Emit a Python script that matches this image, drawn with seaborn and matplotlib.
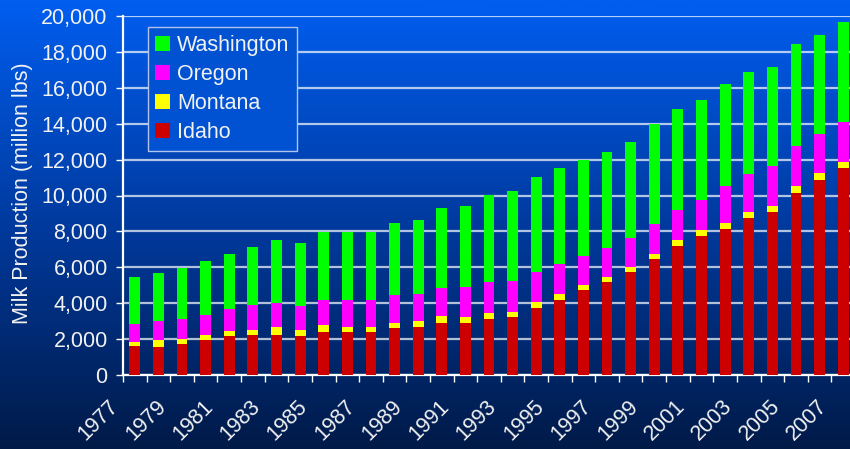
import numpy as np
import pandas as pd
import seaborn as sns
import matplotlib.pyplot as plt
from matplotlib.patches import Patch
from matplotlib.colors import LinearSegmentedColormap
from matplotlib.ticker import FuncFormatter, FixedLocator

# milk production, million lbs
years = list(range(1977, 2008))
idaho = [1600, 1540, 1710, 1930, 2160, 2210, 2210, 2160, 2380, 2380, 2380, 2600, 2660, 2880, 2880, 3100,
         3210, 3720, 4160, 4720, 5160, 5720, 6450, 7170, 7730, 8120, 8730, 9060, 10120, 10850, 11520]
montana = [220, 390, 280, 280, 280, 280, 450, 330, 390, 280, 280, 280, 330, 390, 330, 330,
           280, 330, 330, 280, 280, 280, 280, 330, 330, 330, 330, 330, 390, 390, 330]
oregon = [1040, 1060, 1110, 1110, 1220, 1390, 1340, 1340, 1390, 1500, 1500, 1560, 1500, 1560, 1670, 1730,
          1730, 1670, 1690, 1620, 1620, 1620, 1670, 1670, 1710, 2100, 2160, 2270, 2230, 2210, 2230]
washington = [2580, 2670, 2840, 3010, 3060, 3230, 3510, 3510, 3810, 3810, 3790, 4010, 4120, 4460, 4510, 4850,
              5010, 5290, 5330, 5360, 5350, 5350, 5570, 5630, 5530, 5640, 5640, 5480, 5680, 5480, 5570]

states = ["Idaho", "Montana", "Oregon", "Washington"]
colors = {"Idaho": "#cc0000", "Montana": "#ffff00", "Oregon": "#ff00ff", "Washington": "#00ff00"}

df = pd.DataFrame({"year": years, "Idaho": idaho, "Montana": montana,
                   "Oregon": oregon, "Washington": washington})
cum = df[states].cumsum(axis=1)

plt.rcParams["font.family"] = ["Liberation Sans", "DejaVu Sans"]
txt = "#f2f2f2"
fs = 15.5

fig = plt.figure(figsize=(8.5, 4.49), dpi=100)

# blue gradient background
bg = fig.add_axes([0, 0, 1, 1], zorder=0)
grad = np.linspace(0, 1, 256).reshape(-1, 1)
cmap = LinearSegmentedColormap.from_list("bg", ["#005ef0", "#003a9e", "#001a48"])
bg.imshow(grad, aspect="auto", cmap=cmap, extent=[0, 1, 0, 1])
bg.axis("off")

ax = fig.add_axes([123 / 850, 1 - 375 / 449, 732 / 850, 359 / 449], zorder=1)
ax.set_facecolor("none")

# stacked bars: draw cumulative totals from tallest down
for s in reversed(states):
    sns.barplot(x=df["year"], y=cum[s], color=colors[s], width=0.46, saturation=1,
                linewidth=0, errorbar=None, ax=ax, zorder=3)

ax.set_xlim(-0.5, len(years) - 0.5)
ax.set_ylim(0, 20000)
ax.set_yticks(range(0, 20001, 2000))
ax.yaxis.set_major_formatter(FuncFormatter(lambda v, p: f"{v:,.0f}"))
ax.grid(axis="y", color="white", alpha=0.7, lw=1.6, zorder=1)
ax.set_axisbelow(True)

# year labels every other year, ticks at category boundaries
ax.xaxis.set_major_locator(FixedLocator([i - 0.5 for i in range(0, len(years), 2)]))
ax.set_xticklabels([str(y) for y in years[::2]], rotation=45, ha="right", va="top")
ax.xaxis.set_minor_locator(FixedLocator([i + 0.5 for i in range(0, len(years), 2)]))
ax.tick_params(axis="x", which="both", colors="white", length=5, width=1, labelsize=fs,
               labelcolor=txt, pad=10)
ax.tick_params(axis="y", colors="white", length=5, width=1, labelsize=fs, labelcolor=txt, pad=6)
ax.set_xlabel("")
ax.set_ylabel("")

for side in ["top", "right"]:
    ax.spines[side].set_visible(False)
for side in ["left", "bottom"]:
    ax.spines[side].set_color("white")
    ax.spines[side].set_linewidth(1.6)

fig.text(23 / 850, 1 - 193 / 449, "Milk Production (million lbs)", rotation=90,
         ha="center", va="center", color=txt, fontsize=fs)

handles = [Patch(facecolor=colors[s], edgecolor="none", label=s) for s in reversed(states)]
leg = ax.legend(handles=handles, loc="upper left", bbox_to_anchor=(0.034, 0.969), borderaxespad=0,
                fontsize=fs, handlelength=0.7, handleheight=0.7, handletextpad=0.3,
                labelspacing=0.38, borderpad=0.35, fancybox=False, framealpha=1)
leg.get_frame().set_facecolor("#0052d2")
leg.get_frame().set_edgecolor("#b0c4ee")
leg.get_frame().set_linewidth(1)
for t in leg.get_texts():
    t.set_color(txt)

fig.savefig("out.png", dpi=100)
